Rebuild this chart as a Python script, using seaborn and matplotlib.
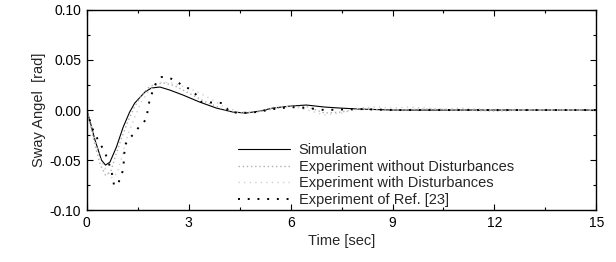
import numpy as np
import pandas as pd
import matplotlib
matplotlib.use("Agg")
import matplotlib.pyplot as plt
from matplotlib.ticker import MultipleLocator
import seaborn as sns

# -----------------------------
# Data
# -----------------------------
t_sim = [0, 0.1, 0.24, 0.43, 0.55, 0.68, 0.87, 1.07, 1.26, 1.41, 1.71, 1.9, 2.15,
         2.44, 2.83, 3.32, 3.81, 4.3, 4.69, 5.1, 5.48, 6.0, 6.46, 7.0, 7.44, 8.0,
         9.0, 10.0, 11.0, 12.0, 13.0, 14.0, 15.0]
y_sim = [0, -0.012, -0.030, -0.050, -0.055, -0.052, -0.037, -0.017, -0.002, 0.007,
         0.018, 0.022, 0.023, 0.020, 0.015, 0.008, 0.002, -0.002, -0.003, -0.001,
         0.002, 0.004, 0.005, 0.003, 0.002, 0.001, 0.0, 0.0, 0.0, 0.0, 0.0, 0.0, 0.0]

t_nodist = [0, 0.2, 0.4, 0.55, 0.7, 0.85, 1.0, 1.2, 1.4, 1.6, 1.8, 2.0, 2.3, 2.6,
            3.0, 3.5, 4.0, 4.5, 5.0, 5.5, 6.0, 6.5, 7.0, 7.5, 8.0, 9.0, 10.0, 11.0,
            12.0, 13.0, 14.0, 15.0]
y_nodist = [0, -0.030, -0.055, -0.065, -0.062, -0.045, -0.030, -0.012, 0.003, 0.014,
            0.022, 0.026, 0.027, 0.024, 0.017, 0.008, 0.001, -0.003, -0.002, 0.001,
            0.004, 0.003, -0.003, -0.002, 0.001, 0.0, 0.001, 0.0, -0.001, 0.0, 0.0, 0.0]

t_dist = [0, 0.2, 0.4, 0.6, 0.75, 0.9, 1.05, 1.2, 1.4, 1.6, 1.8, 2.0, 2.2, 2.5, 2.8,
          3.2, 3.6, 4.0, 4.5, 5.0, 5.5, 6.0, 6.5, 7.0, 7.5, 8.0, 8.5, 9.0, 9.5, 10.0,
          10.5, 11.0, 12.0, 13.0, 14.0, 15.0]
y_dist = [0, -0.025, -0.050, -0.063, -0.068, -0.062, -0.045, -0.025, -0.008, 0.008,
          0.018, 0.024, 0.028, 0.027, 0.024, 0.019, 0.012, 0.004, -0.002, -0.002,
          0.002, 0.004, 0.0, -0.005, -0.003, 0.002, 0.003, 0.002, 0.003, 0.002,
          0.001, 0.002, 0.0, 0.0, 0.0, 0.0]

t_ref = [0, 0.14, 0.33, 0.53, 0.72, 0.8, 0.92, 0.97, 1.07, 1.12, 1.26, 1.41, 1.51,
         1.66, 1.76, 1.8, 1.85, 2.0, 2.2, 2.34, 2.59, 2.79, 3.03, 3.23, 3.37, 4.0,
         4.2, 4.55, 5.0, 5.5, 6.0, 6.5, 7.0, 8.0, 9.0, 10.0, 11.0, 12.0, 13.0, 14.0, 15.0]
y_ref = [0, -0.017, -0.030, -0.042, -0.060, -0.075, -0.075, -0.068, -0.060, -0.035,
         -0.028, -0.023, -0.018, -0.013, -0.008, 0.002, 0.010, 0.025, 0.033, 0.033,
         0.030, 0.025, 0.021, 0.015, 0.008, 0.007, -0.002, -0.003, -0.002, 0.001,
         0.003, 0.002, 0.0, 0.001, 0.0, 0.0, 0.0, 0.0, 0.0, 0.0, 0.0]

labels = ["Simulation", "Experiment without Disturbances",
          "Experiment with Disturbances", "Experiment of Ref. [23]"]

# -----------------------------
# Plot
# -----------------------------
sns.set_style("white")
plt.rcParams["font.family"] = ["Liberation Sans", "DejaVu Sans"]

fig, ax = plt.subplots(figsize=(6.16, 2.62), dpi=100)
fig.subplots_adjust(left=0.141, right=0.968, top=0.962, bottom=0.198)

sns.lineplot(x=t_sim, y=y_sim, ax=ax, color="black", linewidth=0.8,
             label=labels[0])
sns.lineplot(x=t_nodist, y=y_nodist, ax=ax, color="#b0b0b0", linewidth=1.0,
             linestyle=(0, (1, 2)), label=labels[1])
sns.lineplot(x=t_dist, y=y_dist, ax=ax, color="#d0d0d0", linewidth=1.0,
             linestyle=(0, (1, 3)), label=labels[2])
sns.lineplot(x=t_ref, y=y_ref, ax=ax, color="black", linewidth=1.4,
             linestyle=(0, (1, 4)), label=labels[3])

ax.set_xlim(0, 15)
ax.set_ylim(-0.10, 0.10)
ax.xaxis.set_major_locator(MultipleLocator(3))
ax.xaxis.set_minor_locator(MultipleLocator(1.5))
ax.yaxis.set_major_locator(MultipleLocator(0.05))
ax.yaxis.set_minor_locator(MultipleLocator(0.025))
ax.set_yticks([-0.10, -0.05, 0.00, 0.05, 0.10])
ax.set_yticklabels(["-0.10", "-0.05", "0.00", "0.05", "0.10"])
ax.tick_params(which="both", direction="in", labelsize=10, colors="black",
               bottom=True, left=True, top=True, right=True)
ax.tick_params(which="major", length=4, width=0.8, pad=4)
ax.tick_params(which="minor", length=2.5, width=0.8)
for s in ax.spines.values():
    s.set_color("black")
    s.set_linewidth(1.0)

ax.set_xlabel("Time [sec]", fontsize=10.5, labelpad=3)
ax.set_ylabel("Sway Angel  [rad]", fontsize=10.5, labelpad=3)

ax.legend(loc="lower left", bbox_to_anchor=(0.27, -0.05), frameon=False,
          fontsize=10.5, handlelength=3.6, handletextpad=0.6, labelspacing=0.18)

plt.savefig("out.png", dpi=100)
